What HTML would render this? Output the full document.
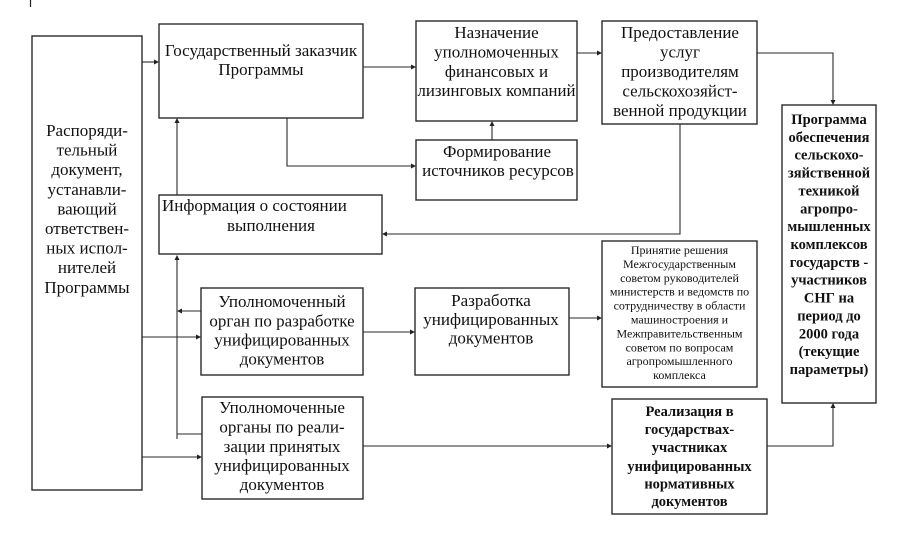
<!DOCTYPE html>
<html>
<head>
<meta charset="utf-8">
<style>
html,body{margin:0;padding:0;background:#fff;}
svg{display:block;}
text{font-family:"Liberation Serif","DejaVu Serif",serif;fill:#111;}
.t{font-size:17px;text-anchor:middle;}
.b{font-size:14.5px;font-weight:bold;text-anchor:middle;}
.s{font-size:12px;text-anchor:middle;}
.box{fill:#fff;stroke:#2a2a2a;stroke-width:1.4;}
.ln{fill:none;stroke:#2a2a2a;stroke-width:1.1;}
.ah{fill:#222;}
</style>
</head>
<body>
<svg width="904" height="541" viewBox="0 0 904 541" xmlns="http://www.w3.org/2000/svg">
<!-- tick -->
<line x1="30.5" y1="0" x2="30.5" y2="7" stroke="#222" stroke-width="1.2"/>

<!-- connectors -->
<polyline class="ln" points="142,62 155,62"/>
<polygon class="ah" points="159,62 154,59.5 154,64.5"/>

<polyline class="ln" points="363,67 412,67"/>
<polygon class="ah" points="416,67 411,64.5 411,69.5"/>

<polyline class="ln" points="287,118 287,166 412,166"/>
<polygon class="ah" points="416,166 411,163.5 411,168.5"/>

<polyline class="ln" points="492,140 492,125"/>
<polygon class="ah" points="492,121 489.5,126 494.5,126"/>

<polyline class="ln" points="577,53 598,53"/>
<polygon class="ah" points="602,53 597,50.5 597,55.5"/>

<polyline class="ln" points="757,53 833,53 833,101"/>
<polygon class="ah" points="833,105 830.5,100 835.5,100"/>

<polyline class="ln" points="680,124 680,234 386,234"/>
<polygon class="ah" points="382,234 387,231.5 387,236.5"/>

<polyline class="ln" points="177,196 177,122"/>
<polygon class="ah" points="177,118 174.5,123 179.5,123"/>

<polyline class="ln" points="177,439 177,259"/>
<polygon class="ah" points="177,255 174.5,260 179.5,260"/>

<polyline class="ln" points="201,311 181,311"/>
<polygon class="ah" points="177,311 182,308.5 182,313.5"/>

<polyline class="ln" points="142,337 197,337"/>
<polygon class="ah" points="201,337 196,334.5 196,339.5"/>

<polyline class="ln" points="202,434 177,434"/>

<polyline class="ln" points="142,457 198,457"/>
<polygon class="ah" points="202,457 197,454.5 197,459.5"/>

<polyline class="ln" points="363,332 411,332"/>
<polygon class="ah" points="415,332 410,329.5 410,334.5"/>

<polyline class="ln" points="569,318 598,318"/>
<polygon class="ah" points="602,318 597,315.5 597,320.5"/>

<polyline class="ln" points="363,446 608,446"/>
<polygon class="ah" points="612,446 607,443.5 607,448.5"/>

<polyline class="ln" points="767,446 833,446 833,407"/>
<polygon class="ah" points="833,403 830.5,408 835.5,408"/>

<!-- boxes -->
<rect class="box" x="32" y="36" width="110" height="454"/>
<rect class="box" x="159" y="24" width="204" height="94"/>
<rect class="box" x="416" y="21" width="161" height="100"/>
<rect class="box" x="416" y="140" width="161" height="60"/>
<rect class="box" x="602" y="21" width="155" height="103"/>
<rect class="box" x="159" y="195" width="223" height="59"/>
<rect class="box" x="782" y="105" width="94" height="298"/>
<rect class="box" x="602" y="241" width="155" height="146"/>
<rect class="box" x="415" y="288" width="154" height="87"/>
<rect class="box" x="201" y="288" width="162" height="87"/>
<rect class="box" x="202" y="397" width="161" height="102"/>
<rect class="box" x="612" y="399" width="155" height="115"/>

<!-- left box text -->
<text class="t" x="87" y="136">Распоряди-</text>
<text class="t" x="87" y="155.6">тельный</text>
<text class="t" x="87" y="175.2">документ,</text>
<text class="t" x="87" y="194.8">устанавли-</text>
<text class="t" x="87" y="214.4">вающий</text>
<text class="t" x="87" y="234">ответствен-</text>
<text class="t" x="87" y="253.6">ных испол-</text>
<text class="t" x="87" y="273.2">нителей</text>
<text class="t" x="87" y="292.8">Программы</text>

<!-- gov customer -->
<text class="t" x="261" y="56">Государственный заказчик</text>
<text class="t" x="261" y="75">Программы</text>

<!-- naznachenie -->
<text class="t" x="496.5" y="38">Назначение</text>
<text class="t" x="496.5" y="57.5">уполномоченных</text>
<text class="t" x="496.5" y="77">финансовых и</text>
<text class="t" x="496.5" y="96" textLength="158" lengthAdjust="spacingAndGlyphs">лизинговых компаний</text>

<!-- formirovanie -->
<text class="t" x="497" y="157">Формирование</text>
<text class="t" x="498" y="176">источников ресурсов</text>

<!-- predostavlenie -->
<text class="t" x="680" y="38">Предоставление</text>
<text class="t" x="680" y="57.5">услуг</text>
<text class="t" x="680" y="77">производителям</text>
<text class="t" x="680" y="96.5">сельскохозяйст-</text>
<text class="t" x="680" y="116">венной продукции</text>

<!-- info -->
<text x="162" y="211" style="font-size:17px;">Информация о состоянии</text>
<text x="227" y="231" style="font-size:17px;">выполнения</text>

<!-- programma -->
<text class="b" x="829" y="124">Программа</text>
<text class="b" x="829" y="141.9">обеспечения</text>
<text class="b" x="829" y="159.7">сельскохо-</text>
<text class="b" x="829" y="177.6">зяйственной</text>
<text class="b" x="829" y="195.4">техникой</text>
<text class="b" x="829" y="213.3">агропро-</text>
<text class="b" x="829" y="231.1">мышленных</text>
<text class="b" x="829" y="249">комплексов</text>
<text class="b" x="829" y="266.9">государств -</text>
<text class="b" x="829" y="284.7">участников</text>
<text class="b" x="829" y="302.6">СНГ на</text>
<text class="b" x="829" y="320.4">период до</text>
<text class="b" x="829" y="338.3">2000 года</text>
<text class="b" x="829" y="356.1">(текущие</text>
<text class="b" x="829" y="374">параметры)</text>

<!-- prinyatie -->
<text class="s" x="679.5" y="254">Принятие решения</text>
<text class="s" x="679.5" y="267.9">Межгосударственным</text>
<text class="s" x="679.5" y="281.8">советом руководителей</text>
<text class="s" x="679.5" y="295.7">министерств и ведомств по</text>
<text class="s" x="679.5" y="309.6">сотрудничеству в области</text>
<text class="s" x="679.5" y="323.5">машиностроения и</text>
<text class="s" x="679.5" y="337.4">Межправительственным</text>
<text class="s" x="679.5" y="351.3">советом по вопросам</text>
<text class="s" x="679.5" y="365.2">агропромышленного</text>
<text class="s" x="679.5" y="379.1">комплекса</text>

<!-- razrabotka -->
<text class="t" x="491" y="306">Разработка</text>
<text class="t" x="491" y="325">унифицированных</text>
<text class="t" x="491" y="343.5">документов</text>

<!-- upoln organ -->
<text class="t" x="282" y="307">Уполномоченный</text>
<text class="t" x="282" y="326.5">орган по разработке</text>
<text class="t" x="282" y="345.5">унифицированных</text>
<text class="t" x="282" y="364.5">документов</text>

<!-- upoln organy -->
<text class="t" x="282" y="413">Уполномоченные</text>
<text class="t" x="282" y="432.5">органы по реали-</text>
<text class="t" x="282" y="452">зации принятых</text>
<text class="t" x="282" y="471">унифицированных</text>
<text class="t" x="282" y="490">документов</text>

<!-- realizatsia -->
<text class="b" x="689.5" y="416">Реализация в</text>
<text class="b" x="689.5" y="434">государствах-</text>
<text class="b" x="689.5" y="452">участниках</text>
<text class="b" x="689.5" y="471">унифицированных</text>
<text class="b" x="689.5" y="488.5">нормативных</text>
<text class="b" x="689.5" y="506">документов</text>
</svg>
</body>
</html>
